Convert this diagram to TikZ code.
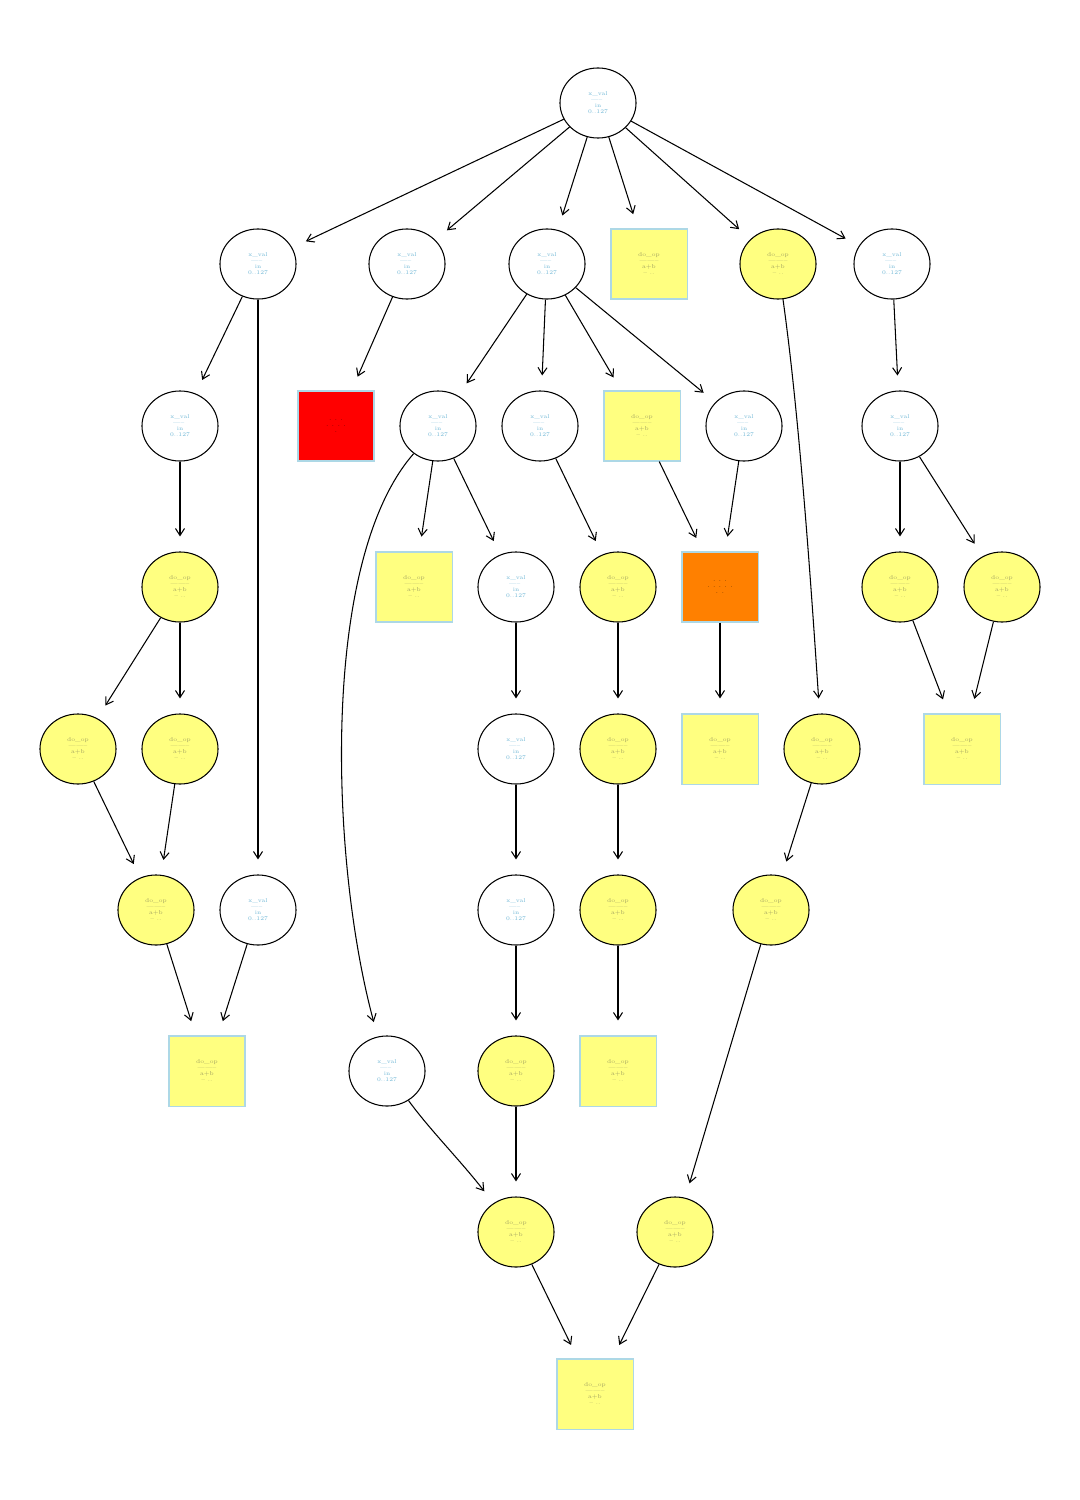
\documentclass[tikz,border=0pt]{standalone}
\usepackage{tikz}
\usetikzlibrary{arrows.meta, shapes.geometric}
\definecolor{stmtyellow}{HTML}{FFFF80}
\definecolor{stmtblue}{HTML}{ADD8E6}
\definecolor{stmttext}{HTML}{A0A060}
\definecolor{vartext}{HTML}{6FB7D6}
\definecolor{errorange}{HTML}{FF8000}
\tikzset{
	tinytext/.style={font=\fontsize{1.6}{2.0}\selectfont, align=center}
}
\tikzset{
	varnode/.style={ellipse, draw, line width=0.3pt, fill=white, minimum width=0.76cm, minimum height=0.70cm, inner sep=0pt, tinytext, text=vartext},
	opnode/.style={ellipse, draw, line width=0.3pt, fill=stmtyellow, minimum width=0.76cm, minimum height=0.70cm, inner sep=0pt, tinytext, text=stmttext},
	boxnode/.style={rectangle, draw=stmtblue, line width=0.3pt, fill=stmtyellow, minimum width=0.76cm, minimum height=0.70cm, inner sep=0pt, tinytext, text=stmttext},
	edge/.style={line width=0.3pt, -{Straight Barb[length=0.7mm, width=0.9mm]}, shorten >=0.15cm}
}
\newcommand{\vlab}{x\_val\\[-0.3pt]-----~~\\[-0.3pt]in\\[-0.3pt]0..127}
\newcommand{\olab}{do\_op\\[-0.3pt]--------\\[-0.3pt]a+b\\[-0.3pt]-- ..}

\begin{document}
\begin{tikzpicture}[x=0.01cm, y=-0.01cm]
      \useasboundingbox (0,0) rectangle (1080,1500);
      % row 0
      \node[varnode] (root) at (598,103) {\vlab};
      % row 1
      \node[varnode] (a1) at (258,264) {\vlab};
      \node[varnode] (b1) at (407,264) {\vlab};
      \node[varnode] (c1) at (547,264) {\vlab};
      \node[boxnode] (d1) at (649,264) {\olab};
      \node[opnode] (e1) at (778,264) {\olab};
      \node[varnode] (f1) at (892,264) {\vlab};
      % row 2
      \node[varnode] (a2) at (180,426) {\vlab};
      \node[boxnode, fill=red, text=black] (b2) at (336,426) {. . .\\[-0.3pt]. . . .\\[-0.3pt].};
      \node[varnode] (c2) at (438,426) {\vlab};
      \node[varnode] (d2) at (540,426) {\vlab};
      \node[boxnode] (e2) at (642,426) {\olab};
      \node[varnode] (f2) at (744,426) {\vlab};
      \node[varnode] (g2) at (900,426) {\vlab};
      % row 3
      \node[opnode] (a3) at (180,587) {\olab};
      \node[boxnode] (b3) at (414,587) {\olab};
      \node[varnode] (c3) at (516,587) {\vlab};
      \node[opnode] (d3) at (618,587) {\olab};
      \node[boxnode, fill=errorange, text=black] (e3) at (720,587) {. . .\\[-0.3pt]. . . . .\\[-0.3pt]. .};
      \node[opnode] (f3) at (900,587) {\olab};
      \node[opnode] (g3) at (1002,587) {\olab};
      % row 4
      \node[opnode] (a4) at (78,749) {\olab};
      \node[opnode] (b4) at (180,749) {\olab};
      \node[varnode] (c4) at (516,749) {\vlab};
      \node[opnode] (d4) at (618,749) {\olab};
      \node[boxnode] (e4) at (720,749) {\olab};
      \node[opnode] (f4) at (822,749) {\olab};
      \node[boxnode] (g4) at (962,749) {\olab};
      % row 5
      \node[opnode] (a5) at (156,910) {\olab};
      \node[varnode] (b5) at (258,910) {\vlab};
      \node[varnode] (c5) at (516,910) {\vlab};
      \node[opnode] (d5) at (618,910) {\olab};
      \node[opnode] (e5) at (771,910) {\olab};
      % row 6
      \node[boxnode] (a6) at (207,1071) {\olab};
      \node[varnode] (b6) at (387,1071) {\vlab};
      \node[opnode] (c6) at (516,1071) {\olab};
      \node[boxnode] (d6) at (618,1071) {\olab};
      % row 7
      \node[opnode] (a7) at (516,1232) {\olab};
      \node[opnode] (b7) at (675,1232) {\olab};
      % row 8
      \node[boxnode] (a8) at (595,1394) {\olab};

      % edges
      \foreach \from/\to in {root/a1, root/b1, root/c1, root/d1, root/e1, root/f1,
          a1/a2, a1/b5, b1/b2, c1/c2, c1/d2, c1/e2, c1/f2, f1/g2,
          a2/a3, c2/b3, c2/c3, d2/d3, e2/e3, f2/e3, g2/f3, g2/g3,
          a3/a4, a3/b4, c3/c4, d3/d4, e3/e4, f3/g4, g3/g4,
          a4/a5, b4/a5, c4/c5, d4/d5, f4/e5,
          a5/a6, b5/a6, c5/c6, d5/d6, e5/b7, c6/a7, a7/a8, b7/a8}
        \draw[edge] (\from) -- (\to);
      % long edges
      \draw[edge] (e1) .. controls (800,420) and (812,600) .. (f4);
      \draw[edge] (c2) .. controls (320,560) and (330,860) .. (b6);
      \draw[edge] (b6) .. controls (430,1130) and (460,1160) .. (a7);
    \end{tikzpicture}
\end{document}
